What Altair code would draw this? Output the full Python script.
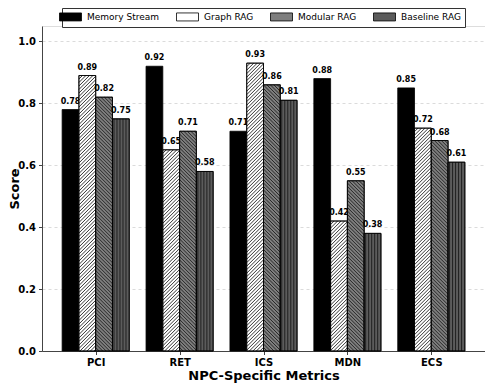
import altair as alt
import pandas as pd

categories = ["PCI", "RET", "ICS", "MDN", "ECS"]
series = ["Memory Stream", "Graph RAG", "Modular RAG", "Baseline RAG"]
memory_stream = [0.78, 0.92, 0.71, 0.88, 0.85]
graph_rag = [0.89, 0.65, 0.93, 0.42, 0.72]
modular_rag = [0.82, 0.71, 0.86, 0.55, 0.68]
baseline_rag = [0.75, 0.58, 0.81, 0.38, 0.61]
values = [memory_stream, graph_rag, modular_rag, baseline_rag]

fills = ["#000000", "#ffffff", "#7e7e7e", "#5c5c5c"]
hatches = [None, "/", "\\", "|"]
hatch_space = [0, 3.5, 3.5, 3.0]
hatch_color = ["#000000", "#000000", "#111111", "#111111"]

W, H = 443, 325
XMIN, XMAX = -0.64, 4.64
YMAX = 1.05
BAR_W = 0.2
pxx = W / (XMAX - XMIN)
pxy = H / YMAX

rows = []
for si, s in enumerate(series):
    for ci, c in enumerate(categories):
        xc = ci + (si - 1.5) * BAR_W
        v = values[si][ci]
        rows.append(dict(series=s, cat=c, x=xc - BAR_W / 2, x2=xc + BAR_W / 2,
                         xc=xc, v=v, label=f"{v:.2f}"))
bars = pd.DataFrame(rows)


def hatch_segments(x0, v, kind, s):
    w = BAR_W * pxx
    h = v * pxy
    segs = []
    if kind == "|":
        k = s / 2
        while k < w - 0.3:
            segs.append((k, 0, k, h))
            k += s
    elif kind == "/":
        c = -h
        while c < w:
            lo, hi = max(0, c), min(w, c + h)
            if hi - lo > 0.3:
                segs.append((lo, lo - c, hi, hi - c))
            c += s
    elif kind == "\\":
        c = 0.0
        while c < w + h:
            lo, hi = max(0, c - h), min(w, c)
            if hi - lo > 0.3:
                segs.append((lo, c - lo, hi, c - hi))
            c += s
    return [dict(hx=x0 + a / pxx, hy=b / pxy, hx2=x0 + cc / pxx, hy2=d / pxy)
            for a, b, cc, d in segs]


xscale = alt.Scale(domain=[XMIN, XMAX], nice=False, zero=False)
yscale = alt.Scale(domain=[0, YMAX], nice=False)
color_scale = alt.Scale(domain=series, range=fills)

label_expr = "[" + ",".join(f"'{c}'" for c in categories) + "][datum.value]"

layers = []
for si, s in enumerate(series):
    d = bars[bars.series == s]
    bar = alt.Chart(d).mark_bar(stroke="black", strokeWidth=0.8).encode(
        x=alt.X("x:Q", scale=xscale,
                axis=alt.Axis(values=list(range(len(categories))), labelExpr=label_expr,
                              title="NPC-Specific Metrics", grid=False)),
        x2="x2:Q",
        y=alt.Y("v:Q", scale=yscale,
                axis=alt.Axis(values=[0, 0.2, 0.4, 0.6, 0.8, 1.0], format=".1f", title="Score",
                              titleX=-24, titleY=H / 2, titleBaseline="alphabetic",
                              titleAngle=270)),
        y2=alt.datum(0),
        fill=alt.Fill("series:N", scale=color_scale, sort=series,
                      legend=alt.Legend(title=None)),
    )
    layers.append(bar)
    if hatches[si]:
        hrows = []
        for _, r in d.iterrows():
            hrows += hatch_segments(r.x, r.v, hatches[si], hatch_space[si])
        hd = pd.DataFrame(hrows)
        hl = alt.Chart(hd).mark_rule(color=hatch_color[si], strokeWidth=0.8).encode(
            x=alt.X("hx:Q", scale=xscale), y=alt.Y("hy:Q", scale=yscale),
            x2="hx2:Q", y2="hy2:Q")
        layers.append(hl)
        edge = alt.Chart(d).mark_bar(stroke="black", strokeWidth=0.8, fillOpacity=0).encode(
            x=alt.X("x:Q", scale=xscale), x2="x2:Q",
            y=alt.Y("v:Q", scale=yscale), y2=alt.datum(0))
        layers.append(edge)
    txt = alt.Chart(d).mark_text(fontWeight="bold", fontSize=8, baseline="bottom", dy=-4,
                                 color="black").encode(
        x=alt.X("xc:Q", scale=xscale), y=alt.Y("v:Q", scale=yscale), text="label:N")
    layers.append(txt)

chart = alt.layer(*layers).resolve_scale(fill="shared").properties(
    width=W, height=H,
    autosize=alt.AutoSizeParams(type="none"),
    padding={"left": 34, "top": 18, "right": 0, "bottom": 33},
).configure_view(stroke=None).configure(font="DejaVu Sans").configure_axis(
    domainColor="#444", tickColor="#444", tickSize=3.5, labelFont="DejaVu Sans",
    labelFontWeight="bold", labelFontSize=10, labelColor="black", labelPadding=3,
    titleFont="DejaVu Sans", titleFontWeight="bold", titleFontSize=13, titleColor="black",
    zindex=1,
).configure_axisY(
    gridColor="#888", gridOpacity=0.3, gridDash=[3, 3],
).configure_axisX(
    titlePadding=2,
).configure_legend(
    orient="none", legendX=20, legendY=-18, direction="horizontal", columns=4,
    symbolType="M-2.75,-1L2.75,-1L2.75,1L-2.75,1Z", symbolSize=64,
    symbolStrokeColor="black", symbolStrokeWidth=0.8, labelOffset=12,
    labelFont="DejaVu Sans", labelFontSize=9, labelColor="black",
    columnPadding=14, padding=4, strokeColor="#333", fillColor="white",
)

chart.save("out.html", embed_options={"renderer": "svg", "actions": False})
